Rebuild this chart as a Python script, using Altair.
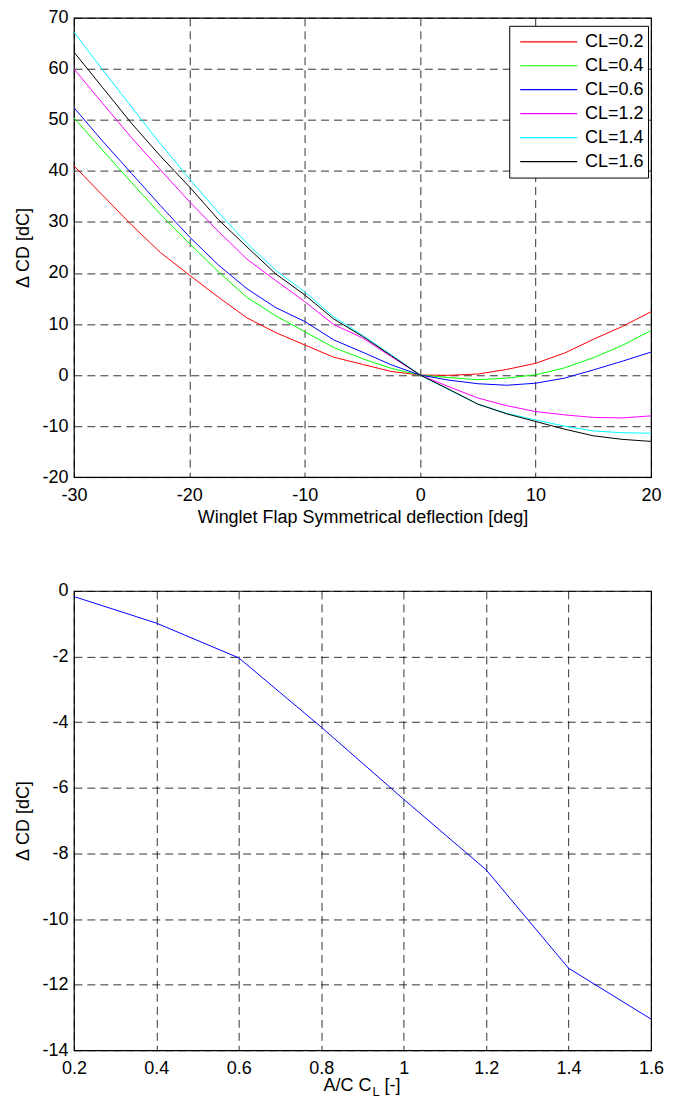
import altair as alt
import pandas as pd

# ---------------- Top chart data ----------------
deflection = [-30, -27.5, -25, -22.5, -20, -17.5, -15, -12.5, -10, -7.5, -5,
              -2.5, 0, 2.5, 5, 7.5, 10, 12.5, 15, 17.5, 20]

cl_0_2 = [41.0, 35.2, 29.4, 24.0, 19.6, 15.3, 11.2, 8.3, 5.9, 3.5, 2.1,
          0.7, 0.0, -0.05, 0.2, 1.1, 2.3, 4.3, 7.0, 9.5, 12.4]
cl_0_4 = [50.4, 44.0, 37.7, 31.5, 25.8, 20.3, 15.2, 11.6, 8.5, 5.4, 3.2,
          1.3, 0.0, -0.5, -0.9, -0.6, 0.05, 1.4, 3.4, 5.8, 8.7]
cl_0_6 = [52.4, 45.8, 39.5, 33.2, 27.1, 21.6, 16.9, 13.2, 10.5, 6.9, 4.5,
          2.0, 0.0, -1.0, -1.7, -2.0, -1.6, -0.6, 1.0, 2.7, 4.5]
cl_1_2 = [60.0, 53.2, 46.5, 40.2, 34.0, 28.2, 22.7, 18.5, 14.4, 9.9, 7.3,
          3.6, 0.0, -2.3, -4.5, -6.0, -7.15, -7.8, -8.3, -8.4, -8.0]
cl_1_4 = [67.2, 59.8, 52.5, 45.3, 38.5, 31.9, 25.8, 20.5, 16.3, 11.4, 7.8,
          3.95, 0.0, -2.9, -5.7, -7.5, -8.8, -10.0, -10.95, -11.3, -11.4]
cl_1_6 = [63.3, 56.3, 49.3, 42.9, 36.9, 30.5, 25.1, 19.8, 15.7, 11.0, 7.6,
          3.8, 0.0, -2.8, -5.7, -7.6, -9.1, -10.6, -11.9, -12.6, -13.0]

series_names = ["CL=0.2", "CL=0.4", "CL=0.6", "CL=1.2", "CL=1.4", "CL=1.6"]
series_colors = ["#ff0000", "#00ff00", "#0000ff", "#ff00ff", "#00ffff", "#000000"]
series_values = [cl_0_2, cl_0_4, cl_0_6, cl_1_2, cl_1_4, cl_1_6]

x_ticks_top = [-30, -20, -10, 0, 10, 20]
y_ticks_top = [-20, -10, 0, 10, 20, 30, 40, 50, 60, 70]

# ---------------- Bottom chart data ----------------
ac_cl = [0.2, 0.4, 0.6, 0.8, 1.0, 1.2, 1.4, 1.6]
delta_cd = [-0.17, -0.98, -2.04, -4.15, -6.35, -8.5, -11.5, -13.05]

x_ticks_bot = [0.2, 0.4, 0.6, 0.8, 1.0, 1.2, 1.4, 1.6]
y_ticks_bot = [-14, -12, -10, -8, -6, -4, -2, 0]

FONT = "Liberation Sans"
FS = 18
W, H = 578, 460

rows = []
for name, vals in zip(series_names, series_values):
    for xv, yv in zip(deflection, vals):
        rows.append({"deflection": xv, "dcd": yv, "series": name})
df_top = pd.DataFrame(rows)
df_bot = pd.DataFrame({"cl": ac_cl, "dcd": delta_cd})

label_expr = "'' + datum.value"

top = alt.Chart(df_top).mark_line(strokeWidth=1, clip=True).encode(
    x=alt.X("deflection:Q",
            scale=alt.Scale(domain=[-30, 20], nice=False, zero=False),
            axis=alt.Axis(values=x_ticks_top, labelExpr=label_expr,
                          title="Winglet Flap Symmetrical deflection [deg]")),
    y=alt.Y("dcd:Q",
            scale=alt.Scale(domain=[-20, 70], nice=False, zero=False),
            axis=alt.Axis(values=y_ticks_top, labelExpr=label_expr,
                          title="Δ CD [dC]")),
    color=alt.Color("series:N",
                    scale=alt.Scale(domain=series_names, range=series_colors),
                    sort=series_names,
                    legend=alt.Legend(title=None, orient="none", legendX=436, legendY=8,
                                      strokeColor="black", fillColor="white",
                                      padding=4, symbolType="stroke", symbolSize=3249,
                                      symbolStrokeWidth=1.2, clipHeight=24, rowPadding=0,
                                      labelOffset=7, symbolOffset=6,
                                      labelFont=FONT, labelFontSize=FS, labelColor="black")),
).properties(width=W, height=H)

title_df = pd.DataFrame({"k": [0]})
bot_line = alt.Chart(df_bot).mark_line(strokeWidth=1, color="#0000ff", clip=True).encode(
    x=alt.X("cl:Q",
            scale=alt.Scale(domain=[0.2, 1.6], nice=False, zero=False),
            axis=alt.Axis(values=x_ticks_bot, labelExpr=label_expr, title=None)),
    y=alt.Y("dcd:Q",
            scale=alt.Scale(domain=[-14, 0], nice=False, zero=False),
            axis=alt.Axis(values=y_ticks_bot, labelExpr=label_expr,
                          title="Δ CD [dC]")),
)
t1 = alt.Chart(title_df).mark_text(font=FONT, fontSize=FS, align="right",
                                   baseline="alphabetic", color="black").encode(
    x=alt.value(298), y=alt.value(501), text=alt.value("A/C C"))
t2 = alt.Chart(title_df).mark_text(font=FONT, fontSize=13, align="left",
                                   baseline="alphabetic", color="black").encode(
    x=alt.value(299), y=alt.value(506), text=alt.value("L"))
t3 = alt.Chart(title_df).mark_text(font=FONT, fontSize=FS, align="left",
                                   baseline="alphabetic", color="black").encode(
    x=alt.value(311), y=alt.value(501), text=alt.value("[-]"))
bottom = alt.layer(bot_line, t1, t2, t3).properties(width=W, height=H)

chart = alt.vconcat(top, bottom, spacing=54).resolve_scale(
    color="independent"
).resolve_legend(
    color="independent"
).properties(
    padding={"left": 6, "top": -1, "right": 0, "bottom": 1}
).configure_view(
    stroke="black", strokeWidth=1.2
).configure_axis(
    grid=True, gridDash=[8, 5], gridColor="black", gridOpacity=0.8, gridWidth=1,
    domain=False, ticks=False,
    labelFont=FONT, labelFontSize=FS, labelColor="black",
    titleFont=FONT, titleFontSize=FS, titleFontWeight="normal", titleColor="black",
    labelOverlap=False, labelFlush=False,
).configure_axisX(
    labelPadding=9, titlePadding=4
).configure_axisY(
    labelPadding=6, titlePadding=9
).configure_legend(
    cornerRadius=0, strokeWidth=1
)

chart.save("out.html", embed_options={"renderer": "svg", "actions": False})
